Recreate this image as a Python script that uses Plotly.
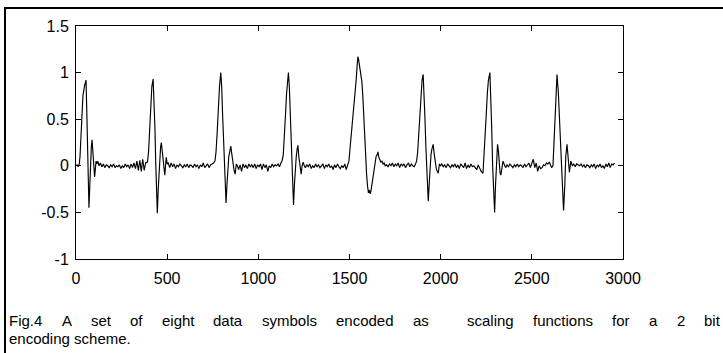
import plotly.graph_objects as go

# ---------------- data (sample index, amplitude) ----------------
start_x = [0, 6, 12]
start_y = [0.0, 0.01, -0.01]

symbol1_x = [18, 22, 26, 30, 38, 47, 55, 59, 63, 67, 71, 75, 79, 84, 88, 92, 96, 99, 102, 106, 110, 115, 120, 126]
symbol1_y = [0.02, 0.1, 0.3, 0.45, 0.75, 0.86, 0.92, 0.6, 0.2, -0.2, -0.45, -0.25, 0.05, 0.2, 0.28, 0.18, 0.0, -0.08, -0.12, -0.04, 0.05, 0.02, 0.05, 0.0]

gap1_x = [134, 142, 150, 158, 166, 174, 182, 190, 198, 206,
          214, 222, 230, 238, 246, 254, 262, 270, 278, 286,
          294, 302, 310, 318, 326, 334, 342, 350, 358, 366,
          374, 382]
gap1_y = [0.03, -0.01, 0.02, -0.02, 0.01, 0.0, -0.02, 0.01, -0.01, 0.02,
          -0.02, 0.0, -0.01, 0.01, -0.03, 0.0, -0.02, 0.02, -0.01, 0.01,
          -0.03, 0.02, -0.02, 0.03, -0.03, 0.05, -0.05, 0.06, -0.06, 0.07,
          -0.05, 0.03]

symbol2_x = [392, 398, 404, 410, 416, 423, 428, 433, 437, 441, 446, 451, 456, 460, 464, 468, 473, 478, 483, 487, 491, 495, 500, 506]
symbol2_y = [0.04, 0.15, 0.4, 0.65, 0.85, 0.93, 0.72, 0.4, 0.05, -0.3, -0.51, -0.25, 0.0, 0.12, 0.2, 0.25, 0.15, 0.0, -0.08, -0.1, 0.0, 0.09, 0.02, 0.03]

gap2_x = [514, 522, 530, 538, 546, 554, 562, 570, 578, 586,
          594, 602, 610, 618, 626, 634, 642, 650, 658, 666,
          674, 682, 690, 698, 706, 714, 722, 730, 738, 746,
          754]
gap2_y = [-0.02, 0.03, -0.01, 0.02, -0.03, 0.01, -0.01, 0.02, 0.0, -0.02,
          0.01, -0.01, 0.02, -0.02, 0.01, 0.0, -0.02, 0.02, -0.01, 0.01,
          -0.03, 0.01, -0.01, 0.03, -0.02, 0.0, 0.02, -0.02, 0.01, 0.02,
          0.03]

symbol3_x = [762, 768, 774, 780, 787, 794, 799, 804, 809, 814, 818, 823, 828, 833, 838, 843, 849, 855, 861, 867, 873, 879, 885]
symbol3_y = [0.05, 0.15, 0.35, 0.6, 0.85, 1.0, 0.85, 0.55, 0.25, -0.05, -0.25, -0.4, -0.2, 0.0, 0.1, 0.15, 0.21, 0.12, 0.0, -0.05, -0.09, 0.02, 0.0]

gap3_x = [892, 900, 908, 916, 924, 932, 940, 948, 956, 964,
          972, 980, 988, 996, 1004, 1012, 1020, 1028, 1036, 1044,
          1052, 1060, 1068, 1076, 1084, 1092, 1100, 1108, 1116, 1124]
gap3_y = [-0.04, 0.01, -0.06, 0.02, -0.02, 0.01, -0.03, 0.02, -0.01, 0.01,
          -0.02, 0.02, -0.03, 0.01, -0.01, 0.02, -0.04, 0.02, -0.02, 0.01,
          -0.06, 0.0, -0.02, 0.02, -0.01, 0.01, 0.0, 0.02, -0.01, 0.03]

symbol4_x = [1131, 1137, 1143, 1149, 1155, 1160, 1165, 1170, 1175, 1180, 1185, 1189, 1193, 1198, 1203, 1208, 1213, 1217, 1222, 1227, 1231, 1235, 1240, 1246, 1252]
symbol4_y = [0.06, 0.12, 0.3, 0.55, 0.78, 0.92, 1.0, 0.85, 0.55, 0.25, -0.05, -0.25, -0.42, -0.2, 0.0, 0.1, 0.18, 0.22, 0.1, 0.0, -0.06, -0.09, 0.0, 0.04, 0.0]

gap4_x = [1258, 1266, 1274, 1282, 1290, 1298, 1306, 1314, 1322, 1330,
          1338, 1346, 1354, 1362, 1370, 1378, 1386, 1394, 1402, 1410,
          1418, 1426, 1434, 1442, 1450, 1458, 1466, 1474, 1482, 1490]
gap4_y = [-0.02, 0.01, -0.01, 0.02, -0.03, 0.0, -0.02, 0.02, -0.01, 0.01,
          -0.02, 0.0, 0.02, -0.03, 0.01, -0.01, 0.02, -0.02, 0.0, -0.04,
          0.01, -0.02, 0.02, -0.01, -0.03, 0.0, -0.02, 0.02, -0.04, 0.01]

symbol5_x = [1497, 1504, 1511, 1518, 1525, 1531, 1537, 1542, 1546, 1550,
             1555, 1562, 1568, 1573, 1577, 1582, 1586, 1590, 1594, 1599,
             1604, 1609, 1613, 1617, 1623, 1628, 1634, 1640, 1646, 1652,
             1656, 1661, 1666, 1672, 1678, 1684, 1690, 1696]
symbol5_y = [0.05, 0.21, 0.35, 0.48, 0.62, 0.77, 0.93, 1.08, 1.17, 1.14,
             1.06, 0.97, 0.9, 0.75, 0.57, 0.38, 0.21, 0.05, -0.1, -0.22,
             -0.29, -0.26, -0.3, -0.28, -0.2, -0.12, -0.03, 0.05, 0.1, 0.12,
             0.15, 0.09, 0.07, 0.04, 0.05, 0.02, 0.03, 0.0]

gap5_x = [1703, 1711, 1719, 1727, 1735, 1743, 1751, 1759, 1767, 1775,
          1783, 1791, 1799, 1807, 1815, 1823, 1831, 1839, 1847, 1855]
gap5_y = [0.01, -0.01, 0.02, 0.0, 0.03, -0.01, 0.02, 0.0, 0.03, -0.02,
          0.02, 0.0, 0.02, -0.02, 0.01, 0.03, -0.01, 0.02, 0.0, -0.01]

symbol6_x = [1862, 1868, 1874, 1880, 1886, 1892, 1898, 1904, 1909, 1914, 1919, 1924, 1928, 1932, 1937, 1942, 1947, 1952, 1959, 1965, 1971, 1977, 1982, 1987, 1993, 1999]
symbol6_y = [0.02, 0.05, 0.15, 0.35, 0.58, 0.78, 0.92, 0.98, 0.8, 0.5, 0.2, -0.1, -0.25, -0.38, -0.2, 0.0, 0.12, 0.18, 0.23, 0.12, 0.0, -0.04, -0.06, -0.08, 0.02, 0.0]

gap6_x = [2006, 2014, 2022, 2030, 2038, 2046, 2054, 2062, 2070, 2078,
          2086, 2094, 2102, 2110, 2118, 2126, 2134, 2142, 2150, 2158,
          2166, 2174, 2182, 2190, 2198, 2206, 2214, 2222]
gap6_y = [0.02, -0.01, 0.01, -0.02, 0.02, 0.0, -0.02, 0.01, -0.01, 0.02,
          -0.02, 0.01, -0.03, 0.02, 0.0, -0.02, 0.03, -0.03, 0.01, -0.02,
          0.02, -0.01, 0.0, -0.02, -0.04, 0.01, -0.03, -0.06]

symbol7_x = [2232, 2238, 2244, 2250, 2256, 2262, 2270, 2275, 2280, 2285, 2290, 2296, 2301, 2306, 2312, 2317, 2322, 2326, 2330, 2336, 2342, 2348]
symbol7_y = [-0.08, 0.1, 0.3, 0.55, 0.78, 0.92, 1.0, 0.75, 0.4, 0.0, -0.3, -0.5, -0.2, 0.05, 0.23, 0.15, 0.0, -0.08, -0.1, 0.0, 0.05, 0.02]

gap7_x = [2356, 2364, 2372, 2380, 2388, 2396, 2404, 2412, 2420, 2428,
          2436, 2444, 2452, 2460, 2468, 2476, 2484, 2492, 2500, 2508,
          2516, 2524, 2532, 2540, 2548, 2556, 2564, 2572, 2580, 2588,
          2596]
gap7_y = [-0.02, 0.01, -0.01, 0.02, 0.0, -0.02, 0.01, -0.01, 0.02, -0.01,
          0.01, 0.0, -0.02, 0.02, -0.01, 0.01, 0.03, -0.02, 0.02, 0.07,
          -0.02, 0.03, -0.06, 0.0, -0.03, -0.02, 0.01, 0.0, 0.03, 0.02,
          0.04]

symbol8_x = [2600, 2608, 2616, 2620, 2626, 2633, 2638, 2645, 2653, 2662, 2667, 2674, 2681, 2686, 2693, 2697, 2703, 2706, 2714, 2722]
symbol8_y = [0.02, -0.02, 0.0, 0.18, 0.55, 0.9, 0.98, 0.8, 0.4, 0.0, -0.3, -0.48, -0.2, 0.1, 0.23, 0.15, 0.0, -0.07, 0.05, 0.0]

gap8_x = [2730, 2738, 2746, 2754, 2762, 2770, 2778, 2786, 2794, 2802,
          2810, 2818, 2826, 2834, 2842, 2850, 2858, 2866, 2874, 2882,
          2890, 2898, 2906, 2914, 2922, 2930, 2938, 2946, 2954]
gap8_y = [0.02, -0.01, 0.02, 0.01, 0.0, 0.02, -0.01, 0.01, -0.02, 0.01,
          0.0, -0.02, 0.01, -0.01, 0.02, -0.03, 0.01, -0.01, 0.02, -0.02,
          0.0, -0.03, 0.02, -0.01, 0.03, -0.02, 0.02, 0.01, 0.03]

x_ticks = [0, 500, 1000, 1500, 2000, 2500, 3000]
y_ticks = [-1, -0.5, 0, 0.5, 1, 1.5]
y_tick_text = ["-1", "-0.5", "0", "0.5", "1", "1.5"]
caption_line1 = "Fig.4 A set of eight data symbols encoded as  scaling functions for a 2 bit"
caption_line2 = "encoding scheme."

# ---------------- assemble ----------------
xs_parts = [start_x, symbol1_x, gap1_x, symbol2_x, gap2_x, symbol3_x, gap3_x, symbol4_x, gap4_x,
            symbol5_x, gap5_x, symbol6_x, gap6_x, symbol7_x, gap7_x, symbol8_x, gap8_x]
ys_parts = [start_y, symbol1_y, gap1_y, symbol2_y, gap2_y, symbol3_y, gap3_y, symbol4_y, gap4_y,
            symbol5_y, gap5_y, symbol6_y, gap6_y, symbol7_y, gap7_y, symbol8_y, gap8_y]
sample = []
amplitude = []
for xp, yp in zip(xs_parts, ys_parts):
    assert len(xp) == len(yp), (len(xp), len(yp))
    sample += xp
    amplitude += yp

W, H = 723, 353
L, R, T, B = 76, 623, 26, 259   # plot area in pixels
pw, ph = R - L, B - T
FONT = "Arial, Liberation Sans, sans-serif"
CAP_SIZE = 15


def px(xp):
    return (xp - L) / pw


def py(yp):
    return (B - yp) / ph


# Arial advance widths (per 1000 em) for justifying the first caption line
ARIAL_W = {' ': 278, '.': 278, '2': 556, '4': 556, 'F': 611, 'A': 667,
           'a': 556, 'b': 556, 'c': 500, 'd': 556, 'e': 556, 'f': 278, 'g': 556,
           'h': 556, 'i': 222, 'l': 222, 'm': 833, 'n': 556, 'o': 556, 'r': 333,
           's': 500, 't': 278, 'u': 556, 'y': 500}


def text_width(s, size):
    return sum(ARIAL_W.get(c, 556) for c in s) * size / 1000.0


fig = go.Figure(go.Scatter(x=sample, y=amplitude, mode="lines",
                           line=dict(color="black", width=1.15), hoverinfo="skip"))

axis_common = dict(showgrid=False, zeroline=False, showline=True, linecolor="black",
                   linewidth=1, mirror="ticks", ticks="inside", ticklen=5,
                   tickcolor="black", tickwidth=1,
                   tickfont=dict(family=FONT, size=16, color="black"))

fig.update_xaxes(range=[0, 3000], tickmode="array", tickvals=x_ticks,
                 ticktext=[str(v) for v in x_ticks], ticklabelstandoff=5, **axis_common)
fig.update_yaxes(range=[-1, 1.5], tickmode="array", tickvals=y_ticks,
                 ticktext=y_tick_text, ticklabelstandoff=3, **axis_common)

# justified first caption line (words spread across the frame width, as in the source page)
line_left, line_right = 8, 719
words = caption_line1.split(" ")          # empty strings mark the doubled space
n_spaces = len(words) - 1
words_w = sum(text_width(w, CAP_SIZE) for w in words)
space_w = (line_right - line_left - words_w) / n_spaces
annotations = []
cursor = line_left
for w in words:
    if w:
        annotations.append(dict(text=w, xref="paper", yref="paper", x=px(cursor), y=py(320),
                                xanchor="left", yanchor="middle", showarrow=False,
                                borderpad=0, font=dict(family=FONT, size=CAP_SIZE, color="black")))
    cursor += text_width(w, CAP_SIZE) + space_w
annotations.append(dict(text=caption_line2, xref="paper", yref="paper", x=px(line_left), y=py(338),
                        xanchor="left", yanchor="middle", showarrow=False, borderpad=0,
                        font=dict(family=FONT, size=CAP_SIZE, color="black")))

fig.update_layout(
    width=W, height=H,
    margin=dict(l=L, r=W - R, t=T, b=H - B, autoexpand=False),
    paper_bgcolor="white", plot_bgcolor="white", showlegend=False,
    font=dict(family=FONT, size=15, color="black"),
    shapes=[dict(type="rect", xref="paper", yref="paper",
                 x0=px(5), x1=px(740), y0=py(370), y1=py(8),
                 line=dict(color="black", width=2), fillcolor="rgba(0,0,0,0)", layer="above")],
    annotations=annotations,
)

fig.write_html("out.html")
